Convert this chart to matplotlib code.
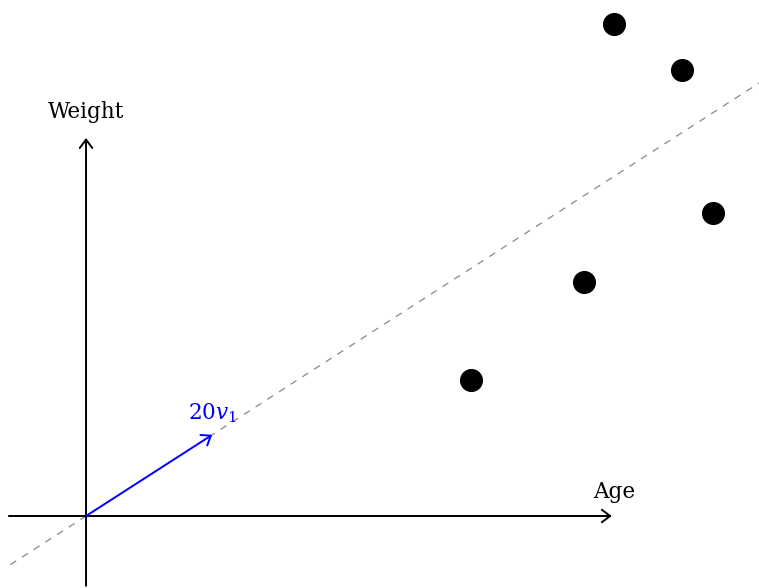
import numpy as np
import matplotlib.pyplot as plt

plt.rcParams['font.family'] = ['DejaVu Serif']
plt.rcParams['mathtext.fontset'] = 'dejavuserif'
plt.rcParams['lines.scale_dashes'] = False

# samples: age vs weight
age = [51.3, 66.4, 70.4, 79.5, 83.6]
weight = [18.1, 31.2, 65.6, 59.5, 40.4]

# first principal direction, and how far it is drawn
v1 = [0.841, 0.541]
v1_scale = 20
line_t = [-12, 110]

fig = plt.figure(figsize=(7.59, 5.88), dpi=100)
ax = fig.add_axes([0, 0, 1, 1])
ax.set_xlim(-11.47, 89.73)
ax.set_ylim(-9.6, 68.8)
ax.axis('off')


def arrow(ax, start, end, color='black'):
    ax.annotate('', xy=end, xytext=start,
                arrowprops=dict(arrowstyle='->,head_length=0.6,head_width=0.45',
                                lw=1.4, color=color, shrinkA=0, shrinkB=0,
                                mutation_scale=10))


# axes
arrow(ax, (-10.3, 0), (70.1, 0))
arrow(ax, (0, -9.3), (0, 50.4))
ax.text(70.4, 2.4, 'Age', ha='center', va='baseline', fontsize=15.5)
ax.text(0, 53.1, 'Weight', ha='center', va='baseline', fontsize=15.5)

# principal axis through the origin
t = np.array(line_t)
ax.plot(t * v1[0], t * v1[1], color='#888888', lw=0.9, dashes=(5, 5))

# scaled direction vector
tip = (v1_scale * v1[0], v1_scale * v1[1])
arrow(ax, (0, 0), tip, color='blue')
ax.text(tip[0], tip[1] + 2.0, r'$20v_1$', color='blue', ha='center',
        va='baseline', fontsize=15.5)

ax.plot(age, weight, 'o', color='black', markersize=15.6, zorder=5)

fig.savefig('out.png', dpi=100)
